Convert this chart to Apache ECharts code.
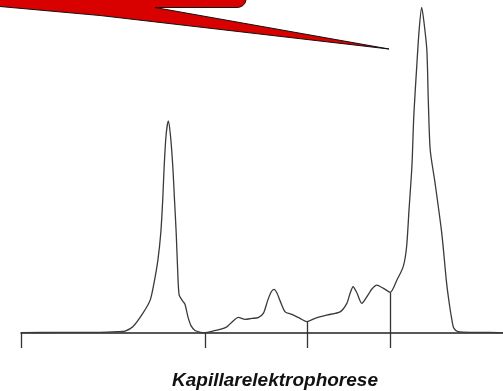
<!DOCTYPE html>
<html>
<head>
<meta charset="utf-8">
<style>
    html, body { margin: 0; padding: 0; background: #fff; }
    #cePlot { width: 503px; height: 391px; }
</style>
<script src="https://cdn.jsdelivr.net/npm/echarts/dist/echarts.min.js"></script>
</head>
<body>
<div id="cePlot"></div>
<script>
// migration time (arbitrary units, 0..10)
var migTime = [0, 0.81, 1.64, 2.01, 2.16, 2.32, 2.53, 2.68, 2.76, 2.84, 2.9, 2.94, 2.97, 3.01, 3.056,
    3.1, 3.15, 3.185, 3.22, 3.25, 3.28, 3.34, 3.4, 3.465, 3.53, 3.61, 3.71, 3.82,
    3.98, 4.13, 4.27, 4.38, 4.51, 4.65, 4.79, 4.92, 5.03, 5.12, 5.19, 5.25, 5.31, 5.37,
    5.48, 5.62, 5.79, 5.93, 6.1, 6.34, 6.62, 6.76, 6.83, 6.89, 6.97, 7.07, 7.2, 7.28,
    7.38, 7.52, 7.66, 7.8, 7.93, 8.0, 8.05, 8.11, 8.15, 8.21, 8.26, 8.313, 8.36, 8.42,
    8.45, 8.49, 8.59, 8.73, 8.83, 8.89, 8.94, 8.98, 9.07, 9.32, 9.73, 10];
// detector signal (relative absorbance)
var absorb = [0, 0.001, 0.001, 0.003, 0.005, 0.018, 0.06, 0.1, 0.153, 0.223, 0.306, 0.407, 0.509, 0.607, 0.65,
    0.607, 0.509, 0.407, 0.306, 0.193, 0.116, 0.1, 0.088, 0.048, 0.021, 0.007, 0.002, 0,
    0.005, 0.01, 0.018, 0.033, 0.047, 0.041, 0.044, 0.046, 0.06, 0.1, 0.125, 0.133, 0.122, 0.1,
    0.064, 0.056, 0.044, 0.034, 0.044, 0.054, 0.064, 0.09, 0.122, 0.141, 0.122, 0.09, 0.116, 0.134,
    0.146, 0.136, 0.124, 0.162, 0.203, 0.264, 0.377, 0.51, 0.668, 0.817, 0.929, 0.999, 0.954, 0.868,
    0.715, 0.561, 0.46, 0.305, 0.152, 0.085, 0.039, 0.014, 0.003, 0.001, 0.001, 0];

// fraction cut marks (time, height where they meet the trace)
var cutTimes = [0, 3.82, 5.93, 7.66];
var cutTops = [0, 0, 0.034, 0.124];
var cutBottom = -0.047;

var axisTitle = 'Kapillarelektrophorese';

(function () {
    var myChart = echarts.init(document.getElementById('cePlot'));

    var traceData = [];
    for (var i = 0; i < migTime.length; i++) {
        traceData.push([migTime[i], absorb[i]]);
    }

    var cutLines = [];
    for (var j = 0; j < cutTimes.length; j++) {
        cutLines.push([{ coord: [cutTimes[j], cutBottom] }, { coord: [cutTimes[j], cutTops[j]] }]);
    }

    var option = {
        backgroundColor: '#fff',
        animation: false,
        grid: { left: 21, right: 0, top: 7, bottom: 43 },
        xAxis: {
            type: 'value',
            min: 0,
            max: 10,
            axisLine: { show: true, onZero: true, lineStyle: { color: '#222', width: 1.5 } },
            axisTick: { show: false },
            axisLabel: { show: false },
            splitLine: { show: false }
        },
        yAxis: {
            type: 'value',
            min: cutBottom,
            max: 1,
            show: false
        },
        // red callout, cut off at the top left
        graphic: [{
            type: 'polygon',
            shape: {
                points: [[-5, -5], [246, -5], [246, 0], [245, 3], [243, 5.5], [240, 7], [237, 7.5],
                    [155, 7.5], [389, 49], [100, 15.5], [0, 6.5], [-5, 6]]
            },
            style: { fill: '#d90000', stroke: '#111', lineWidth: 1 },
            z: 10
        }, {
            type: 'text',
            x: 275,
            y: 380.5,
            style: {
                text: axisTitle,
                fill: '#111',
                font: 'italic bold 19px "Liberation Sans", Arial, sans-serif',
                textAlign: 'center',
                textVerticalAlign: 'middle'
            }
        }],
        series: [{
            type: 'line',
            data: traceData,
            smooth: 0.25,
            symbol: 'none',
            lineStyle: { color: '#3a3a3a', width: 1.3 },
            markLine: {
                silent: true,
                symbol: 'none',
                label: { show: false },
                lineStyle: { type: 'solid', color: '#333', width: 1.3 },
                data: cutLines
            }
        }]
    };
    myChart.setOption(option);
})();
</script>
</body>
</html>
